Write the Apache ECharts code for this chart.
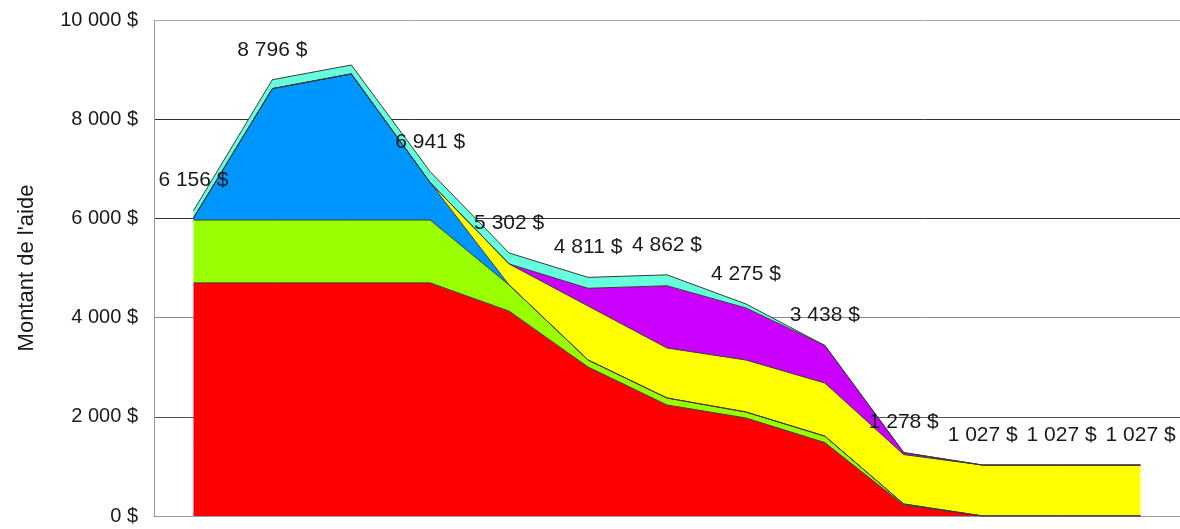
<!DOCTYPE html>
<html>
<head>
<meta charset="utf-8">
<script src="https://cdn.jsdelivr.net/npm/echarts@6/dist/echarts.min.js"></script>
<style>
html,body{margin:0;padding:0;background:#fff;}
#chart{width:1180px;height:529px;}
</style>
</head>
<body>
<div id="chart"></div>
<script>
// Categories (13 periods, no visible labels)
const categories = ['1','2','3','4','5','6','7','8','9','10','11','12','13'];
// Stacked layers, bottom to top
const redValues    = [4700,4700,4700,4700,4130,3004,2238,1976,1480,222,0,0,0];
const greenValues  = [1268,1268,1268,1268,527,141,141,121,130,20,0,0,0];
const blueValues   = [38,2648,2945,753,0,0,0,0,0,0,0,0,0];
const yellowValues = [0,0,0,0,425,1089,1008,1048,1071,996,1027,1027,1027];
const purpleValues = [0,0,0,0,0,357,1255,1050,757,40,0,0,0];
const cyanValues   = [150,180,180,220,220,220,220,80,0,0,0,0,0];
// Total labels shown above the stack (null = no label)
const totalLabels  = [6156,8796,null,6941,5302,4811,4862,4275,3438,1278,1027,1027,1027];
// Y axis ticks
const yMin = 0, yMax = 10000, yInterval = 2000;

function fmt(v){
  return String(Math.round(v)).replace(/\B(?=(\d{3})+(?!\d))/g,' ') + ' $';
}

const FONT = "'Liberation Sans', Arial, sans-serif";
const chart = echarts.init(document.getElementById('chart'), null, {renderer:'canvas'});

function layer(name, data, color, extra){
  return Object.assign({
    name: name,
    type: 'line',
    stack: 'total',
    data: data,
    symbol: 'none',
    smooth: false,
    silent: true,
    lineStyle: {color: '#3a3a3a', width: 1},
    areaStyle: {color: color, opacity: 1},
    itemStyle: {color: color},
    animation: false
  }, extra || {});
}

chart.setOption({
  backgroundColor: '#ffffff',
  animation: false,
  grid: {left: 154, top: 20, bottom: 13, width: 1030, containLabel: false},
  xAxis: {
    type: 'category',
    data: categories,
    boundaryGap: true,
    axisLine: {show: true, lineStyle: {color: '#999', width: 1}},
    axisTick: {show: false, length: 0},
    axisLabel: {show: false},
    splitLine: {show: false}
  },
  yAxis: {
    type: 'value',
    min: yMin, max: yMax, interval: yInterval,
    name: "Montant de l'aide",
    nameLocation: 'middle',
    nameGap: 116,
    nameTextStyle: {fontFamily: FONT, fontSize: 22, color: '#1a1a1a'},
    axisLine: {show: true, lineStyle: {color: '#999', width: 1}},
    axisTick: {show: false, length: 0},
    minorTick: {show: false},
    axisLabel: {
      margin: 16,
      fontFamily: FONT, fontSize: 20, color: '#1a1a1a',
      formatter: function(v){ return fmt(v); }
    },
    splitLine: {show: true, lineStyle: {color: ['#999','#555','#888','#333','#333','#aaa'], width: 1}}
  },
  series: [
    layer('rouge', redValues, '#FF0000'),
    layer('vert', greenValues, '#99FF00'),
    layer('bleu', blueValues, '#0096FF'),
    layer('jaune', yellowValues, '#FFFF00'),
    layer('violet', purpleValues, '#CC00FF'),
    layer('cyan', cyanValues, '#66FFDD', {
      symbol: 'circle',
      symbolSize: 0,
      showSymbol: true,
      showAllSymbol: true,
      label: {
        show: true,
        position: 'top',
        distance: 20,
        fontFamily: FONT,
        fontSize: 21,
        lineHeight: 20,
        color: '#1a1a1a',
        formatter: function(p){
          const t = totalLabels[p.dataIndex];
          return t == null ? '' : fmt(t);
        }
      }
    })
  ]
});
</script>
</body>
</html>
